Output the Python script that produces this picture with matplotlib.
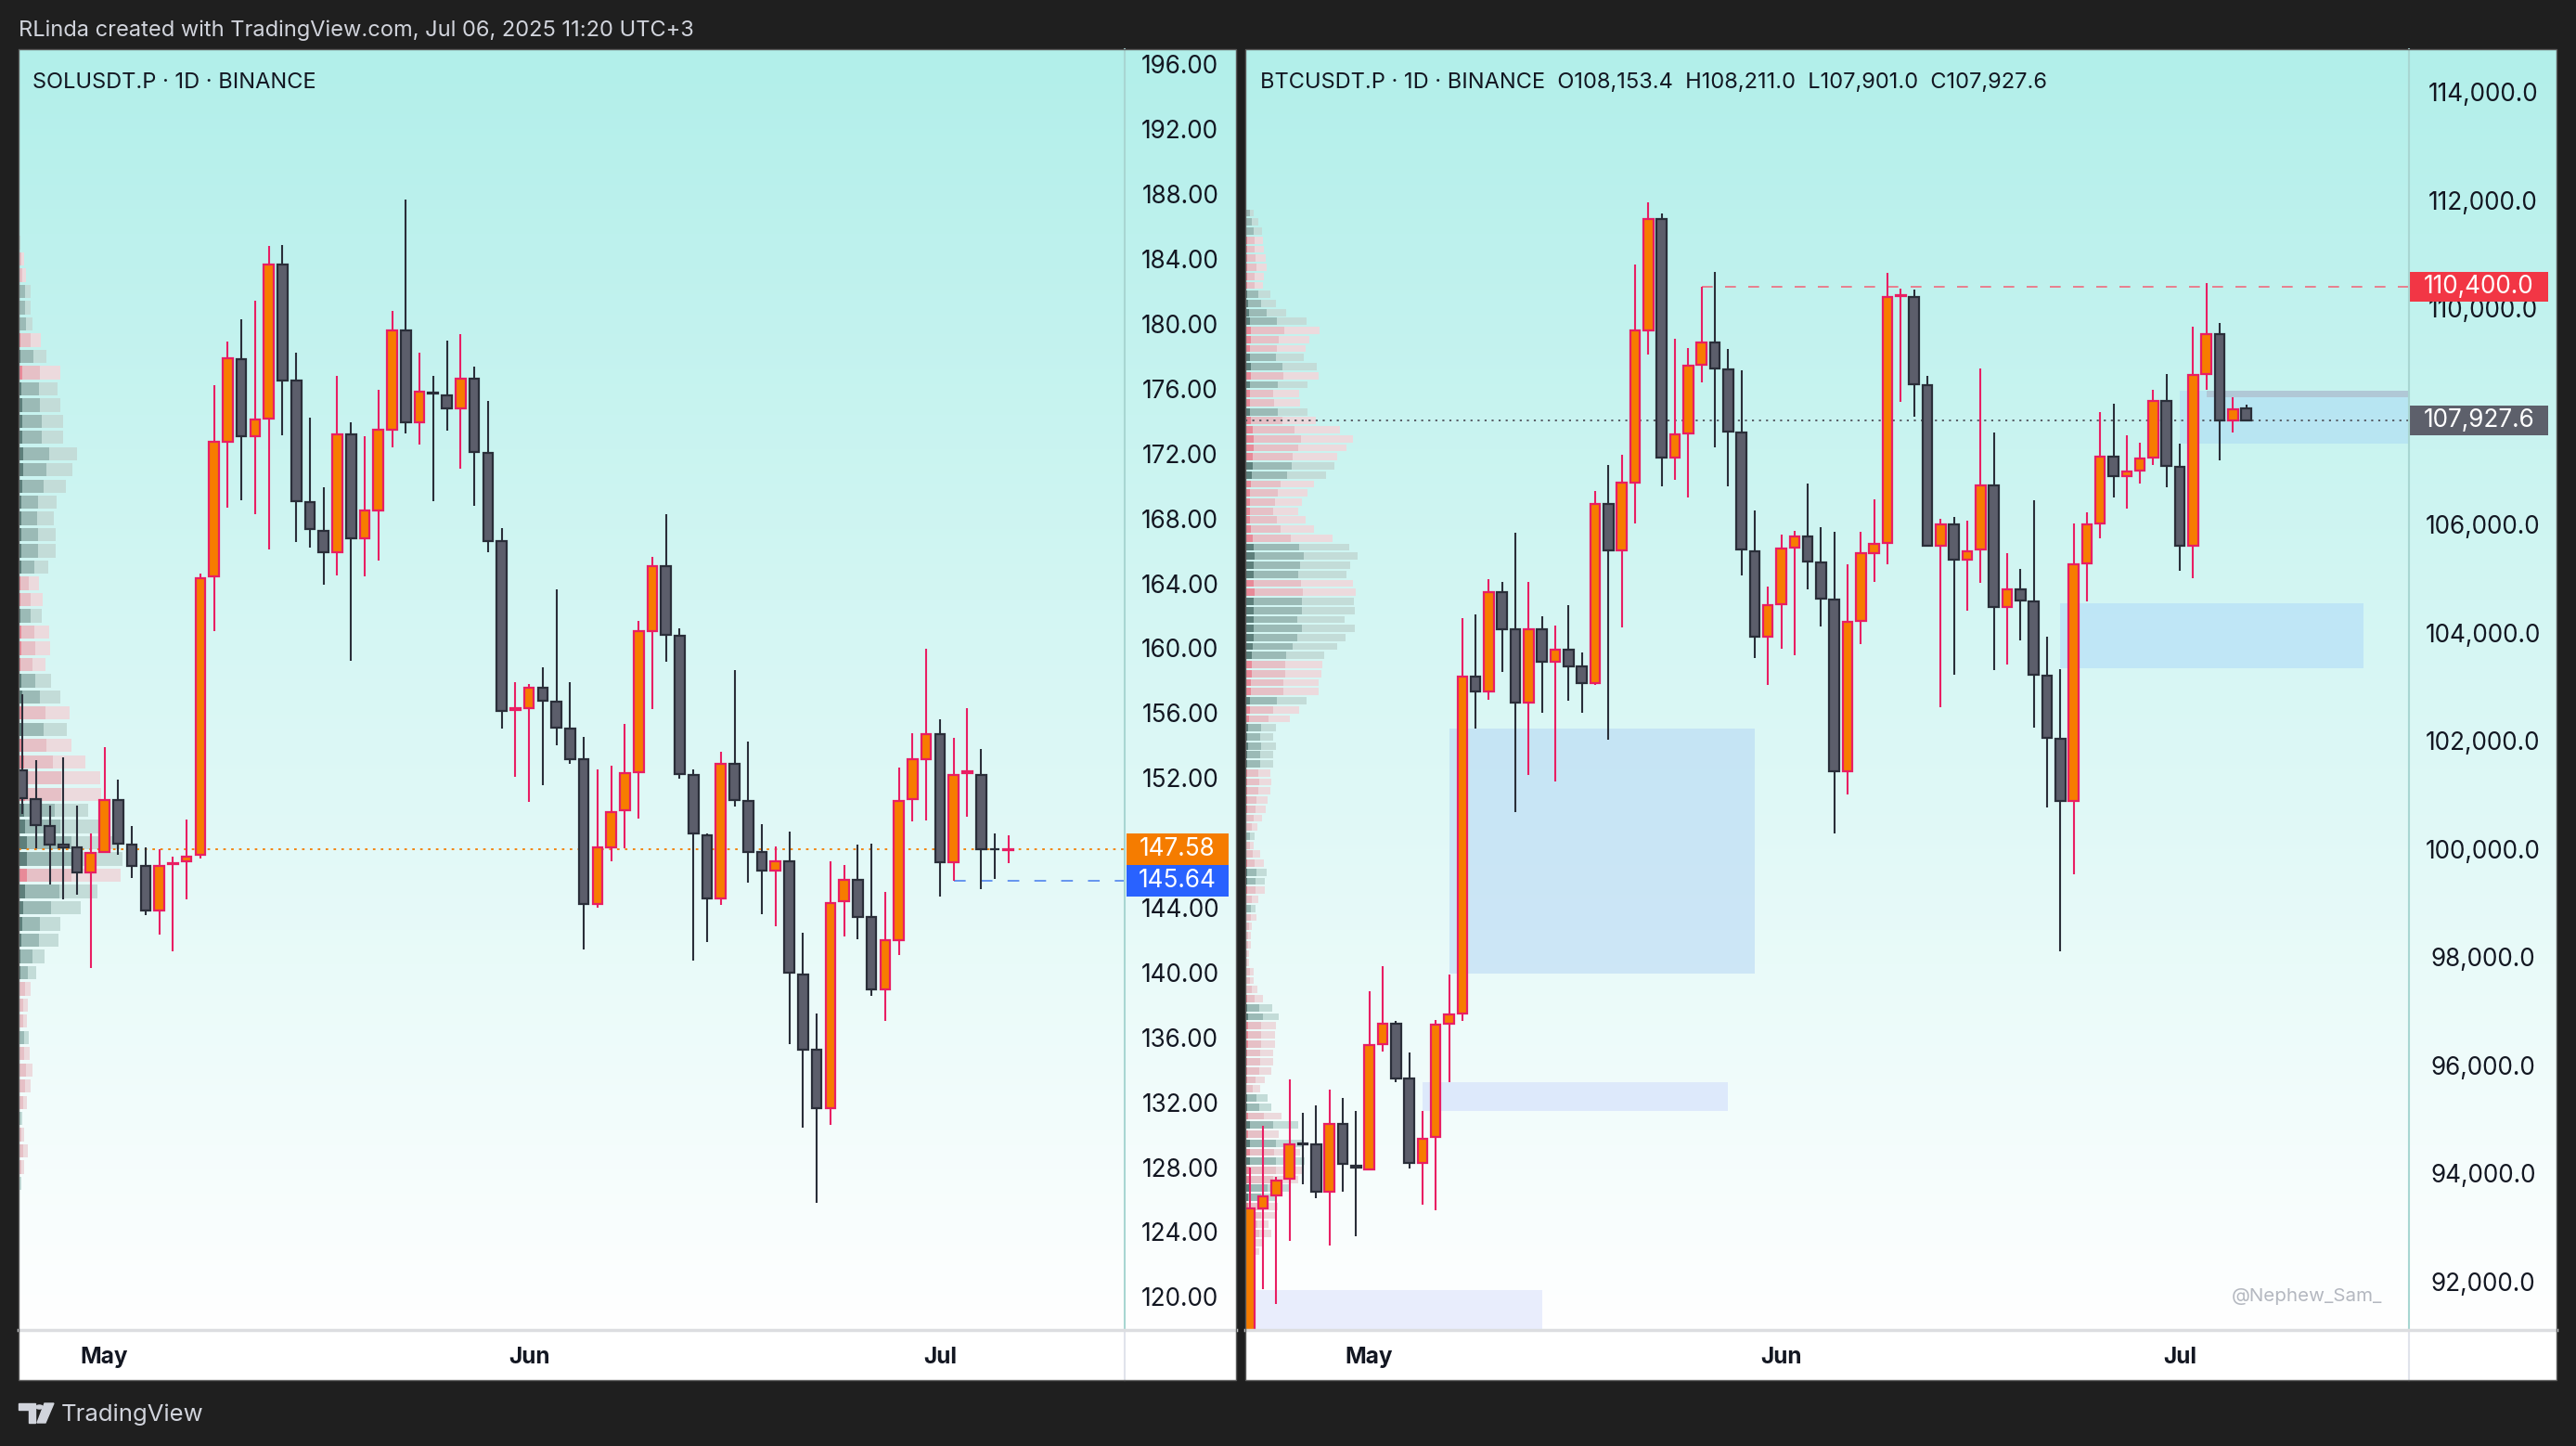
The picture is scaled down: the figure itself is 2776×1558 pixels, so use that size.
import matplotlib.pyplot as plt
import numpy as np
import pandas as pd
from matplotlib.colors import LinearSegmentedColormap
from matplotlib.lines import Line2D
from matplotlib.patches import Rectangle, Circle, Polygon
from matplotlib.transforms import blended_transform_factory

plt.rcParams['font.family'] = ['Inter', 'DejaVu Sans']

# ---------------- SOLUSDT.P, 1D, Apr 25 - Jul 06 2025 ----------------
sol_start = '2025-04-25'
sol_open = [152.45, 150.69, 149.05, 147.90, 147.70, 146.15, 147.46, 150.65, 147.87, 146.56,
            143.82, 146.68, 146.84, 147.25, 164.43, 172.73, 177.80, 173.10, 174.16, 183.69,
            176.49, 169.01, 167.25, 165.90, 173.18, 166.76, 168.51, 173.46, 179.60, 173.95,
            175.78, 175.59, 174.81, 176.61, 172.07, 166.59, 156.21, 156.33, 157.56, 156.70,
            155.02, 153.14, 144.23, 147.70, 149.99, 152.36, 161.07, 165.04, 160.79, 152.16,
            148.48, 144.55, 152.85, 150.61, 147.42, 146.27, 146.88, 139.89, 135.23, 131.63,
            144.39, 145.74, 143.41, 138.95, 142.02, 150.69, 153.18, 154.69, 146.80, 152.32,
            152.20, 147.62, 147.56]
sol_high = [157.19, 153.10, 150.32, 153.30, 150.32, 148.56, 153.88, 151.87, 149.01, 147.74,
            147.58, 147.17, 149.46, 164.59, 176.20, 178.94, 180.29, 181.44, 184.83, 184.87,
            178.25, 174.20, 169.95, 176.78, 173.91, 173.10, 175.96, 180.82, 187.69, 178.25,
            176.82, 178.98, 179.39, 177.39, 175.26, 167.41, 157.93, 157.80, 158.82, 163.61,
            157.93, 154.53, 152.53, 152.77, 155.31, 161.69, 165.61, 168.27, 161.24, 152.53,
            148.60, 153.59, 158.66, 154.25, 149.17, 147.78, 148.72, 142.47, 137.48, 146.88,
            146.64, 147.91, 147.95, 145.00, 152.65, 154.78, 159.97, 155.59, 154.45, 156.33,
            153.80, 148.60, 148.44]
sol_low = [149.79, 147.66, 145.41, 144.51, 144.80, 140.26, 147.40, 147.25, 145.82, 143.57,
           142.35, 141.32, 144.51, 147.05, 161.07, 168.68, 169.13, 168.27, 166.10, 173.14,
           166.55, 166.23, 163.90, 164.51, 159.23, 164.43, 165.41, 172.40, 173.22, 172.56,
           169.05, 173.42, 171.09, 168.80, 165.94, 155.02, 152.08, 150.52, 151.55, 154.00,
           152.85, 141.41, 143.98, 146.84, 147.66, 149.50, 156.25, 159.15, 151.96, 140.75,
           141.90, 144.19, 150.24, 145.54, 143.61, 142.84, 135.60, 130.45, 125.79, 130.61,
           142.22, 142.06, 138.58, 137.03, 141.08, 149.34, 149.38, 144.68, 145.66, 149.62,
           145.13, 145.78, 146.76]
sol_close = [150.73, 149.09, 147.91, 147.70, 146.15, 147.38, 150.65, 147.95, 146.56, 143.82,
             146.56, 146.76, 147.13, 164.34, 172.73, 177.88, 173.10, 174.08, 183.69, 176.53,
             169.09, 167.33, 165.90, 173.18, 166.76, 168.47, 173.46, 179.60, 173.95, 175.80,
             175.70, 174.81, 176.61, 172.11, 166.59, 156.13, 156.30, 157.56, 156.74, 155.10,
             153.18, 144.23, 147.70, 149.91, 152.32, 161.03, 165.04, 160.83, 152.24, 148.56,
             144.55, 152.85, 150.65, 147.46, 146.27, 146.88, 139.97, 135.23, 131.63, 144.31,
             145.74, 143.45, 138.95, 141.98, 150.61, 153.14, 154.69, 146.80, 152.16, 152.40,
             147.62, 147.60, 147.58]
sol_last = 147.58
sol_level = 145.64
sol_level_from = 68
sol_ticks = list(range(120, 197, 4))

# visible range volume profile, rows of 1.0 from 127 to 187
sol_prof_prices = list(range(127, 188))
sol_prof_vol = [8, 18, 30, 18, 12, 27, 40, 45, 35, 33,
                28, 30, 40, 57, 85, 128, 135, 200, 255, 330,
                335, 325, 258, 225, 265, 264, 215, 171, 155, 165,
                135, 105, 87, 102, 99, 75, 77, 65, 97, 120,
                120, 115, 123, 153, 174, 189, 145, 144, 135, 125,
                135, 90, 72, 45, 39, 39, 25, 18, 6, 4, 0]
sol_prof_side = ("gpppgppppg" "pppggggggp" "ggggppppgp" "ggpppgppgg"
                 "gggggggggg" "pgpgggppgg" "g")

# ---------------- BTCUSDT.P, 1D, Apr 22 - Jul 06 2025 ----------------
btc_start = '2025-04-22'
btc_open = [87500, 93354, 93587, 93902, 94558, 94531, 93655, 94914, 94134, 94080,
            96392, 96775, 95748, 94189, 94668, 96761, 96953, 103179, 102919, 104753,
            104055, 102714, 104055, 103453, 103685, 103371, 103070, 106381, 105519, 106778,
            109597, 111650, 107243, 107681, 108954, 109364, 108872, 107695, 105505, 103932,
            104520, 105574, 105779, 105300, 104616, 101428, 104219, 105478, 105656, 110227,
            110199, 108571, 105601, 105998, 105355, 105533, 106723, 104479, 104794, 104575,
            103207, 102043, 100894, 105286, 106026, 107257, 106901, 106997, 107230, 108283,
            107066, 105615, 108776, 109515, 107928, 108153.4]
btc_high = [94107, 94873, 93943, 95735, 95119, 95256, 95544, 95393, 95146, 97364,
            97829, 96816, 96228, 95146, 96843, 97678, 104274, 104342, 104985, 104931,
            105848, 104931, 104301, 104137, 104507, 103631, 106614, 107093, 107284, 110815,
            111951, 111759, 109433, 109269, 110391, 110678, 109241, 108844, 106258, 104849,
            105806, 105875, 106751, 105943, 105861, 105259, 105861, 106463, 110651, 110363,
            110336, 108749, 106108, 106135, 106067, 108885, 107709, 105478, 105177, 106450,
            103918, 103330, 106012, 106217, 108078, 108229, 107654, 107517, 108489, 108776,
            107490, 109666, 110473, 109720, 108352, 108211.0]
btc_low = [87000, 91862, 91589, 92752, 93806, 93532, 92670, 93655, 92834, 94052,
           96255, 95680, 94093, 93422, 93313, 95680, 96816, 102221, 102755, 103275,
           100675, 101373, 102522, 101250, 102742, 102522, 103029, 102016, 104096, 106026,
           109146, 106710, 106833, 106491, 108625, 107435, 106710, 105054, 103535, 103029,
           103699, 103590, 104808, 104110, 100292, 101004, 103795, 104931, 105259, 108270,
           107996, 105590, 102618, 103220, 104397, 104917, 103302, 103412, 103863, 102249,
           100771, 98103, 99539, 104575, 105752, 106491, 106299, 106765, 107107, 106682,
           105150, 105000, 108489, 107189, 107695, 107901.0]
btc_close = [93354, 93573, 93875, 94531, 94540, 93655, 94914, 94175, 94107, 96365,
             96775, 95762, 94189, 94641, 96748, 96939, 103179, 102919, 104753, 104055,
             102714, 104055, 103453, 103685, 103384, 103070, 106381, 105519, 106778, 109583,
             111650, 107243, 107668, 108940, 109364, 108885, 107722, 105533, 103932, 104507,
             105560, 105779, 105314, 104630, 101428, 104192, 105464, 105642, 110199, 110240,
             108598, 105601, 105998, 105355, 105505, 106723, 104479, 104794, 104602, 103220,
             102057, 100894, 105259, 105998, 107257, 106901, 106983, 107216, 108283, 107079,
             105615, 108762, 109515, 107928, 108133, 107927.6]
btc_last = 107927.6
btc_level = 110400.0
btc_level_from = 34
btc_ticks = list(range(92000, 114001, 2000))
btc_hidden_tick = 108000  # sits under the last-price tag

# profile rows from top (111,759) downward, one row every 167
btc_prof_top = 111759
btc_prof_step = 167
btc_prof_vol = [27, 42, 54, 57, 60, 66, 69, 60, 57, 81,
                99, 132, 198, 240, 207, 195, 189, 231, 237, 201,
                174, 177, 201, 228, 306, 348, 327, 297, 288, 261,
                222, 201, 183, 171, 195, 222, 282, 336, 363, 339,
                327, 348, 357, 351, 354, 321, 354, 324, 297, 255,
                249, 246, 237, 237, 198, 174, 144, 99, 90, 99,
                90, 90, 81, 84, 81, 72, 66, 54, 39, 30,
                27, 48, 60, 69, 63, 63, 42, 33, 36, 21,
                18, 18, 12, 12, 27, 27, 39, 57, 87, 108,
                99, 96, 96, 90, 90, 84, 63, 48, 72, 84,
                117, 171, 108, 189, 177, 192, 190, 171, 141, 96,
                105, 96, 75, 84, 57, 45]
btc_prof_side = ("gggppppppg" "gggpppggpg" "ppgpppppgg" "pppppppggg" "gppggggggg"
                 "ppppgppggg" "ggpppppppg" "pppggppgpp" "ppppppppgg" "ppppppppgg"
                 "pgpgpgppgg" "pppppp")

# zones drawn on the BTC chart: start bar, end bar, low, high, colour, alpha
btc_zones = [
    (15, 38.0, 97692, 102221, '#accef4', 0.45),
    (13, 36.0, 95146, 95680, '#c6d4fb', 0.45),
    (0.3, 22.0, 90500, 91849, '#cad4fa', 0.40),
    (61, 83.8, 103344, 104548, '#a6d3fa', 0.45),
    (70, 95.0, 107490, 108475, '#a5d6f6', 0.45),
    (72, 95.0, 108350, 108475, '#aebccb', 0.70),
]

# ---------------- layout (pixels) ----------------
W, H = 2776, 1558
DARK = '#1f1f1f'
TXT = '#131722'
UP_BODY, UP_EDGE = '#f77c00', '#e91e63'
DN_BODY, DN_EDGE = '#5c5e6b', '#2a2e39'
PROF_COLORS = {'g': ('#5d7f7b', '#9bbab6', '#c3dcd8'),
               'p': ('#e88a98', '#e6c0c6', '#ecdadd')}
AXIS_FS = 18.8

fig = plt.figure(figsize=(W / 100, H / 100), dpi=100, facecolor=DARK)


def fx(x):
    return x / W


def fy(y):
    return 1 - y / H


def box(x0, y0, x1, y1):
    return [fx(x0), fy(y1), (x1 - x0) / W, (y1 - y0) / H]


def fig_rect(x0, y0, x1, y1, **kw):
    r = Rectangle((fx(x0), fy(y1)), (x1 - x0) / W, (y1 - y0) / H,
                  transform=fig.transFigure, **kw)
    fig.add_artist(r)


def fig_line(xs, ys, **kw):
    fig.add_artist(Line2D([fx(x) for x in xs], [fy(y) for y in ys],
                          transform=fig.transFigure, **kw))


grad_cmap = LinearSegmentedColormap.from_list('tvbg', ['#ffffff', '#b2efea'])


def draw_panel(g, start, o, h, l, c, ylim, ticks, fmt, tick_pad, body_w, hidden=()):
    x0, xa, x1, y0, yp, y1 = g['x0'], g['xa'], g['x1'], g['y0'], g['yp'], g['y1']
    # time axis background
    fig_rect(x0, yp, x1, y1, facecolor='white', edgecolor='none', zorder=-10)
    # gradient background behind plot and price scale
    ax_bg = fig.add_axes(box(x0, y0, x1, yp))
    ax_bg.imshow(np.linspace(0, 1, 256).reshape(-1, 1)[::-1], aspect='auto',
                 cmap=grad_cmap, extent=[0, 1, 0, 1])
    ax_bg.axis('off')
    ax_bg.set_zorder(-5)

    ax = fig.add_axes(box(x0, y0, xa, yp))
    ax.set_zorder(0)
    ax.patch.set_visible(False)
    for s in ax.spines.values():
        s.set_visible(False)

    o, h, l, c = map(np.asarray, (o, h, l, c))
    idx = np.arange(len(o))
    dates = pd.date_range(start, periods=len(o), freq='D')
    up = c >= o
    ax.vlines(idx, l, h, colors=np.where(up, UP_EDGE, DN_EDGE), linewidth=1.5, zorder=3)
    span = ylim[1] - ylim[0]
    body_h = np.maximum(np.abs(c - o), span * 0.0004)
    ax.bar(idx, body_h, bottom=np.minimum(o, c), width=body_w,
           color=np.where(up, UP_BODY, DN_BODY),
           edgecolor=np.where(up, UP_EDGE, DN_EDGE), linewidth=1.6, zorder=4)

    ax.set_xlim((x0 - g['bar0']) / g['step'], (xa - g['bar0']) / g['step'])
    ax.set_ylim(*ylim)

    ax.yaxis.tick_right()
    ax.set_yticks(ticks, labels=['' if t in hidden else fmt(t) for t in ticks], ha='center')
    ax.tick_params(axis='y', length=0, pad=tick_pad, labelsize=AXIS_FS, labelcolor=TXT)
    months = [i for i, d in enumerate(dates) if d.day == 1]
    ax.set_xticks(months, labels=[dates[i].strftime('%b') for i in months],
                  fontweight='bold')
    ax.tick_params(axis='x', length=0, pad=13, labelsize=17.5, labelcolor=TXT)

    # profile overlay sharing the price scale, x measured in pixels
    ax_p = ax.twiny()
    ax_p.set_zorder(-1)
    ax_p.axis('off')
    ax_p.set_xlim(0, xa - x0)

    # dividers and frame
    fig_line([xa, xa], [y0, yp], color='#a8d6d2', lw=1.5, zorder=2)
    fig_line([xa, xa], [yp, y1], color='#e0e3eb', lw=1.5, zorder=2)
    fig_line([x0, x1], [yp, yp], color='#dcdde0', lw=2.5, zorder=2)
    fig_rect(x0, y0, x1, y1, fill=False, edgecolor='#5a5a5a', lw=1, zorder=2)
    return ax, ax_p


def draw_profile(ax_p, prices, vols, sides, row_h, max_px):
    vols = np.asarray(vols, dtype=float)
    widths = vols / vols.max() * max_px
    for p, w, s in zip(prices, widths, sides):
        lead, mid, light = PROF_COLORS[s]
        ax_p.barh(p, w, height=row_h, left=0, color=light, linewidth=0)
        ax_p.barh(p, w * 0.52, height=row_h, left=0, color=mid, linewidth=0)
        ax_p.barh(p, w * 0.08, height=row_h, left=0, color=lead, linewidth=0)


def price_tag(ax, price, text, fc, x0_px, x1_px, h_px):
    trans = blended_transform_factory(ax.transAxes, ax.transData)
    pw = ax.bbox.width
    ylo, yhi = ax.get_ylim()
    dy = h_px / 2 / (ax.bbox.height / (yhi - ylo))
    ax.add_patch(Rectangle((1 + x0_px / pw, price - dy), (x1_px - x0_px) / pw, 2 * dy,
                           transform=trans, facecolor=fc, edgecolor='none',
                           clip_on=False, zorder=6))
    ax.text(1 + (x0_px + x1_px) / 2 / pw, price, text, transform=trans, ha='center',
            va='center', color='white', fontsize=AXIS_FS, zorder=7, clip_on=False)


# ---------------- left panel: SOL ----------------
left = dict(x0=20, xa=1212, x1=1332, y0=53, yp=1433, y1=1487, bar0=24.0, step=14.76)
axL, axLp = draw_panel(left, sol_start, sol_open, sol_high, sol_low, sol_close,
                       (117.96, 196.94), sol_ticks, lambda t: f'{t:.2f}', 43, 0.72)
draw_profile(axLp, sol_prof_prices, sol_prof_vol, sol_prof_side, 0.82, 112)
axL.axhline(sol_last, color='#f57c00', ls=(0, (1.5, 3.2)), lw=1.3, zorder=2)
axL.hlines(sol_level, sol_level_from, axL.get_xlim()[1], colors='#5b8def',
           linestyles=(0, (7, 9)), lw=1.3, zorder=2)
price_tag(axL, sol_last, f'{sol_last:.2f}', '#f57c00', 2, 112, 34)
price_tag(axL, sol_level, f'{sol_level:.2f}', '#2962ff', 2, 112, 34)

# ---------------- right panel: BTC ----------------
right = dict(x0=1342, xa=2596, x1=2755, y0=53, yp=1433, y1=1487, bar0=1346.7, step=14.32)
axR, axRp = draw_panel(right, btc_start, btc_open, btc_high, btc_low, btc_close,
                       (91103, 114790), btc_ticks, lambda t: f'{t:,.1f}', 57.5, 0.74,
                       hidden=(btc_hidden_tick,))
btc_prof_prices = [btc_prof_top - btc_prof_step * k for k in range(len(btc_prof_vol))]
draw_profile(axRp, btc_prof_prices, btc_prof_vol, btc_prof_side, btc_prof_step * 0.8, 121)
for xs, xe, lo, hi, col, a in btc_zones:
    axR.add_patch(Rectangle((xs, lo), xe - xs, hi - lo, facecolor=col, alpha=a,
                            edgecolor='none', zorder=1))
axR.axhline(btc_last, color='#50535c', ls=(0, (1.2, 3)), lw=1.3, zorder=2)
axR.hlines(btc_level, btc_level_from, axR.get_xlim()[1], colors='#ef6b7e',
           linestyles=(0, (7, 8)), lw=1.2, zorder=2)
price_tag(axR, btc_level, f'{btc_level:,.1f}', '#f23645', 1, 150, 32)
price_tag(axR, btc_last, f'{btc_last:,.1f}', '#5d606b', 1, 150, 32)

# ---------------- texts ----------------
fig.text(fx(20), fy(33), 'RLinda created with TradingView.com, Jul 06, 2025 11:20 UTC+3',
         color='#d1d4dc', fontsize=17, va='center')
fig.text(fx(35), fy(89), 'SOLUSDT.P · 1D · BINANCE', color=TXT, fontsize=17, va='center')
fig.text(fx(1358), fy(89),
         'BTCUSDT.P · 1D · BINANCE  O108,153.4  H108,211.0  L107,901.0  C107,927.6',
         color=TXT, fontsize=17, va='center')
fig.text(fx(2567), fy(1397), '@Nephew_Sam_', color='#b4b8c0', fontsize=14.8,
         ha='right', va='center')

# footer logo + wordmark
logo = '#d1d4dc'
fig.add_artist(Polygon([(fx(20), fy(1512)), (fx(38), fy(1512)), (fx(38), fy(1533)),
                        (fx(31), fy(1533)), (fx(31), fy(1519)), (fx(20), fy(1519))],
                       closed=True, transform=fig.transFigure, color=logo))
fig.add_artist(Circle((fx(42.5), fy(1516)), 3.6 / W, transform=fig.transFigure, color=logo))
fig.add_artist(Polygon([(fx(48), fy(1512)), (fx(58), fy(1512)), (fx(49), fy(1533)),
                        (fx(40), fy(1533))],
                       closed=True, transform=fig.transFigure, color=logo))
fig.text(fx(66), fy(1524), 'TradingView', color=logo, fontsize=18.5, va='center')

fig.savefig('out.png', dpi=100, facecolor=DARK)
